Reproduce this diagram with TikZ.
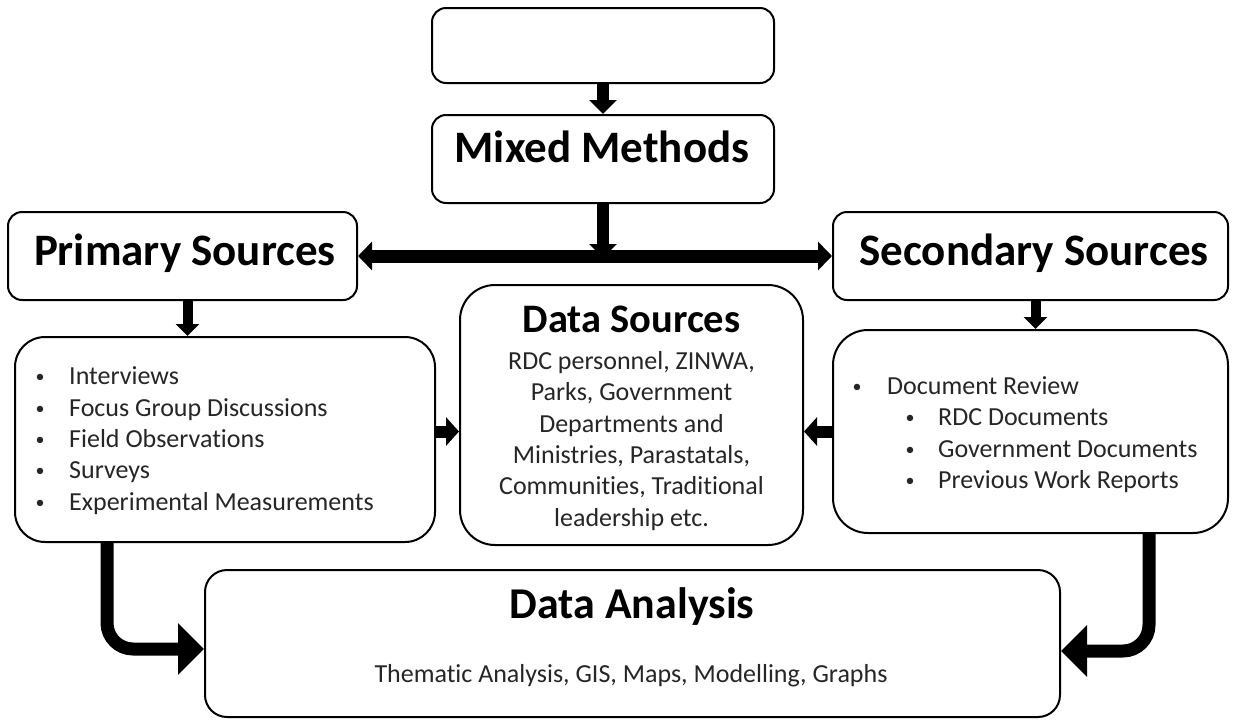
\documentclass[tikz,border=0pt]{standalone}
\usepackage{fontspec}
\setmainfont{Carlito}[Ligatures=NoCommon]
\usetikzlibrary{arrows.meta}
\begin{document}
\begin{tikzpicture}[x=1pt,y=-1pt,
  box/.style={draw=black, line width=2pt, rounded corners=#1, fill=white, inner sep=0pt},
  box/.default=14pt,
  title/.style={font=\fontsize{45}{54}\selectfont\bfseries, text=black, inner sep=0pt},
  midtitle/.style={font=\fontsize{40.5}{48}\selectfont\bfseries, text=black, inner sep=0pt},
  body/.style={font=\fontsize{26}{31}\selectfont, text=black!85, inner sep=0pt},
  bul/.style={font=\fontsize{18}{22}\selectfont, text=black!85, inner sep=0pt},
  arrsmall/.style={draw=black, line width=12pt, -{Triangle[width=27pt,length=14pt]}},
  arrtiny/.style={draw=black, line width=10pt, -{Triangle[width=23pt,length=12pt]}},
  arrside/.style={draw=black, line width=12pt, -{Triangle[width=28pt,length=13pt]}},
  arrbar/.style={draw=black, line width=13pt, {Triangle[width=28pt,length=14pt]}-{Triangle[width=28pt,length=14pt]}},
  arrcurve/.style={draw=black, line width=13pt, rounded corners=26pt, -{Triangle[width=50pt,length=26pt]}}
]
\useasboundingbox (0,0) rectangle (1235,721);

% boxes
\node[box, minimum width=342pt, minimum height=75pt] (top) at (603,45.5) {};
\node[box, minimum width=342pt, minimum height=88pt] (mixed) at (603,159) {};
\node[box, minimum width=349pt, minimum height=88pt] (primary) at (182.5,256) {};
\node[box, minimum width=395pt, minimum height=88pt] (secondary) at (1030.5,256) {};
\node[box=30pt, minimum width=420pt, minimum height=205pt] (leftlist) at (225,439.5) {};
\node[box=35pt, minimum width=343pt, minimum height=260pt] (datasrc) at (631.5,415) {};
\node[box=35pt, minimum width=395pt, minimum height=203pt] (rightlist) at (1030.5,431.5) {};
\node[box=22pt, minimum width=855pt, minimum height=147pt] (analysis) at (632.5,643.5) {};

% titles
\node[title, anchor=base] (tmixed) at (602,162) {Mixed Methods};
\node[title, anchor=base] (tprimary) at (185,265) {Primary Sources};
\node[title, anchor=base] (tsecondary) at (1034,265) {Secondary Sources};
\node[midtitle, anchor=base] (tdatasrc) at (631.5,332) {Data Sources};
\node[title, anchor=base, font=\fontsize{44}{52}\selectfont\bfseries] (tanalysis) at (632,618) {Data Analysis};

% data sources body
\node[body, anchor=base] (ds1) at (631.5,369) {RDC personnel, ZINWA,};
\node[body, anchor=base] (ds2) at (631.5,400) {Parks, Government};
\node[body, anchor=base] (ds3) at (631.5,432) {Departments and};
\node[body, anchor=base] (ds4) at (631.5,463) {Ministries, Parastatals,};
\node[body, anchor=base] (ds5) at (631.5,494) {Communities, Traditional};
\node[body, anchor=base] (ds6) at (631.5,526) {leadership etc.};

% left list
\node[bul, anchor=base] (lb1) at (40,382) {•};
\node[body, anchor=base west] (lt1) at (69,384) {Interviews};
\node[bul, anchor=base] (lb2) at (40,414) {•};
\node[body, anchor=base west] (lt2) at (69,416) {Focus Group Discussions};
\node[bul, anchor=base] (lb3) at (40,445) {•};
\node[body, anchor=base west] (lt3) at (69,447) {Field Observations};
\node[bul, anchor=base] (lb4) at (40,476) {•};
\node[body, anchor=base west] (lt4) at (69,478) {Surveys};
\node[bul, anchor=base] (lb5) at (40,508) {•};
\node[body, anchor=base west] (lt5) at (69,510) {Experimental Measurements};

% right list
\node[bul, anchor=base] (rb1) at (857,392) {•};
\node[body, anchor=base west] (rt1) at (887,394) {Document Review};
\node[bul, anchor=base] (rb2) at (910,423) {•};
\node[body, anchor=base west] (rt2) at (938,425) {RDC Documents};
\node[bul, anchor=base] (rb3) at (910,455) {•};
\node[body, anchor=base west] (rt3) at (938,457) {Government Documents};
\node[bul, anchor=base] (rb4) at (910,486) {•};
\node[body, anchor=base west] (rt4) at (938,488) {Previous Work Reports};

% analysis body
\node[body, anchor=base] (abody) at (631,682) {Thematic Analysis, GIS, Maps, Modelling, Graphs};

% connectors
\draw[arrsmall] (top.south) -- (mixed.north);
\draw[arrbar] (primary.east) -- (secondary.west);
\draw[arrsmall] (mixed.south) -- ([yshift=-2pt]mixed.south |- primary.east);
\coordinate (p1) at ([xshift=5pt]primary.south);
\draw[arrtiny] (p1) -- (p1 |- leftlist.north);
\coordinate (s1) at ([xshift=5pt]secondary.south);
\draw[arrtiny] (s1) -- (s1 |- rightlist.north);
\coordinate (l1) at ([yshift=8pt]leftlist.east);
\draw[arrside] (l1) -- (l1 -| datasrc.west);
\draw[arrside] (rightlist.west) -- (rightlist.west -| datasrc.east);
\draw[arrcurve] ([xshift=93pt]leftlist.south west) |- ([yshift=-5.5pt]analysis.west);
\draw[arrcurve] ([xshift=-80pt]rightlist.south east) |- ([yshift=-7.5pt]analysis.east);
\end{tikzpicture}
\end{document}
